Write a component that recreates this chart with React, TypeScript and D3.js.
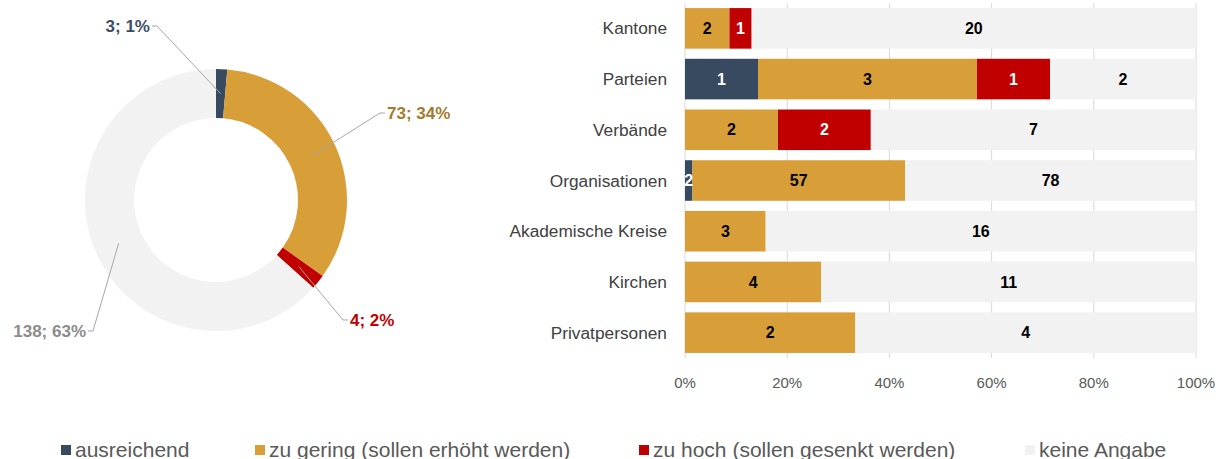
import React from "react";
import { scaleBand, scaleLinear, pie, arc, stack } from "d3";

// Series / categories
const seriesNames = [
  "ausreichend",
  "zu gering (sollen erhöht werden)",
  "zu hoch (sollen gesenkt werden)",
  "keine Angabe",
];
const seriesColors = ["#374a60", "#d89e38", "#c00000", "#f2f2f2"];
const barTextColors = ["#ffffff", "#000000", "#ffffff", "#000000"];
const donutLabelColors = ["#3b4e66", "#a67a2b", "#c00000", "#8c8c8c"];

const categories = [
  "Kantone",
  "Parteien",
  "Verbände",
  "Organisationen",
  "Akademische Kreise",
  "Kirchen",
  "Privatpersonen",
];
const ausreichend = [0, 1, 0, 2, 0, 0, 0];
const zuGering = [2, 3, 2, 57, 3, 4, 2];
const zuHoch = [1, 1, 2, 0, 0, 0, 0];
const keineAngabe = [20, 2, 7, 78, 16, 11, 4];

const donutValues = [3, 73, 4, 138];
const donutPercents = ["1%", "34%", "2%", "63%"];
const tickLabels = ["0%", "20%", "40%", "60%", "80%", "100%"];

// label elbows for the donut callouts (layout only)
const calloutPos = [
  { x: 157, y: 26, side: -1 },
  { x: 380, y: 113, side: 1 },
  { x: 343, y: 320, side: 1 },
  { x: 93, y: 331, side: -1 },
];
const legendX = [61, 255, 639, 1025];

const W = 1218;
const H = 459;
const FONT = "'Liberation Sans', Arial, sans-serif";

export default function App() {
  // ---- donut
  const cx = 216;
  const cy = 200;
  const outerR = 131;
  const innerR = 82;
  const pieGen = pie<number>().value((d) => d).sort(null);
  const arcs = pieGen(donutValues);
  const arcGen = arc<any>().innerRadius(innerR).outerRadius(outerR);

  // ---- bars
  const x = scaleLinear().domain([0, 1]).range([685, 1196]);
  const y = scaleBand<string>()
    .domain(categories)
    .range([3, 358])
    .paddingInner(0.2)
    .paddingOuter(0.1);

  const rows = categories.map((c, i) => {
    const vals = [ausreichend[i], zuGering[i], zuHoch[i], keineAngabe[i]];
    const total = vals.reduce((a, b) => a + b, 0);
    const r: any = { cat: c, total };
    vals.forEach((v, k) => (r["s" + k] = v / total));
    vals.forEach((v, k) => (r["v" + k] = v));
    return r;
  });
  const stacked = stack<any>().keys(["s0", "s1", "s2", "s3"])(rows);

  return (
    <svg
      width={W}
      height={H}
      style={{ position: "absolute", left: 0, top: 0, fontFamily: FONT }}
    >
      {/* donut */}
      <g transform={`translate(${cx},${cy})`}>
        {arcs.map((a, i) => (
          <path key={i} d={arcGen(a) || ""} fill={seriesColors[i]} />
        ))}
      </g>
      {arcs.map((a, i) => {
        const [mx, my] = arcGen.centroid(a);
        const p = calloutPos[i];
        const pts = `${cx + mx},${cy + my} ${p.x},${p.y} ${p.x + p.side * 5},${p.y}`;
        return (
          <g key={i}>
            <polyline points={pts} fill="none" stroke="#a6a6a6" strokeWidth={1} />
            <text
              x={p.x + p.side * 7}
              y={p.y}
              dy="0.35em"
              textAnchor={p.side < 0 ? "end" : "start"}
              fontSize={17}
              fontWeight="bold"
              fill={donutLabelColors[i]}
            >
              {`${donutValues[i]}; ${donutPercents[i]}`}
            </text>
          </g>
        );
      })}

      {/* gridlines */}
      {x.ticks(5).map((t) => (
        <line
          key={t}
          x1={x(t)}
          x2={x(t)}
          y1={3}
          y2={358}
          stroke="#d9d9d9"
          strokeWidth={1}
        />
      ))}

      {/* bars */}
      {stacked.map((layer, k) => (
        <g key={k}>
          {layer.map((d, i) => {
            const w = x(d[1]) - x(d[0]);
            if (w <= 0) return null;
            return (
              <rect
                key={i}
                x={x(d[0])}
                y={y(categories[i])}
                width={w}
                height={y.bandwidth()}
                fill={seriesColors[k]}
              />
            );
          })}
        </g>
      ))}
      {stacked.map((layer, k) => (
        <g key={"t" + k}>
          {layer.map((d, i) => {
            const v = rows[i]["v" + k];
            if (!v) return null;
            return (
              <text
                key={i}
                x={(x(d[0]) + x(d[1])) / 2}
                y={(y(categories[i]) || 0) + y.bandwidth() / 2}
                dy="0.35em"
                textAnchor="middle"
                fontSize={16}
                fontWeight="bold"
                fill={barTextColors[k]}
              >
                {v}
              </text>
            );
          })}
        </g>
      ))}

      {/* category labels */}
      {categories.map((c) => (
        <text
          key={c}
          x={667}
          y={(y(c) || 0) + y.bandwidth() / 2}
          dy="0.35em"
          textAnchor="end"
          fontSize={17.3}
          fill="#404040"
        >
          {c}
        </text>
      ))}

      {/* tick labels */}
      {x.ticks(5).map((t, i) => (
        <text
          key={t}
          x={x(t)}
          y={388}
          textAnchor="middle"
          fontSize={15}
          fill="#595959"
        >
          {tickLabels[i]}
        </text>
      ))}

      {/* legend */}
      {seriesNames.map((s, i) => (
        <g key={s}>
          <rect x={legendX[i]} y={445} width={10} height={10} fill={seriesColors[i]} />
          <text x={legendX[i] + 14} y={457} fontSize={21} fill="#595959">
            {s}
          </text>
        </g>
      ))}
    </svg>
  );
}
